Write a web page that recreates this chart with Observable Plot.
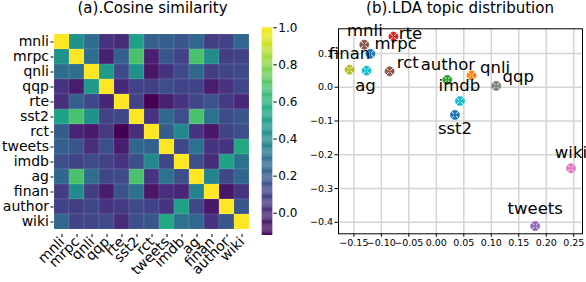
<!DOCTYPE html>
<html>
<head>
<meta charset="utf-8">
<script src="https://cdn.jsdelivr.net/npm/d3@7"></script>
<script src="https://cdn.jsdelivr.net/npm/@observablehq/plot@0.6"></script>
<style>
  html, body { margin: 0; padding: 0; background: white; }
  #wrap { position: relative; width: 586px; height: 282px; overflow: hidden; font-family: "DejaVu Sans", sans-serif; }
  .title { position: absolute; top: 0; font-size: 15px; line-height: 17px; white-space: nowrap; transform: translateX(-50%); color: black; }
  .panel { position: absolute; top: 0; }
  .panel svg { max-width: none !important; overflow: visible; background: none !important; }
</style>
</head>
<body>
<div id="wrap">
  <div class="title" style="left:152.5px">(a).Cosine similarity</div>
  <div class="title" style="left:460px">(b).LDA topic distribution</div>
  <div class="panel" id="heat" style="left:0px"></div>
  <div class="panel" id="cbar" style="left:250px"></div>
  <div class="panel" id="scatter" style="left:290px"></div>
</div>
<script>
// ---------- data ----------
const datasets = ["mnli","mrpc","qnli","qqp","rte","sst2","rct","tweets","imdb","ag","finan","author","wiki"];

const simMnli   = [1.00,0.45,0.27,0.05,0.02,0.52,0.22,0.22,0.17,0.25,0.08,0.10,0.25];
const simMrpc   = [0.45,1.00,0.27,-0.02,0.22,0.68,-0.02,0.18,0.10,0.68,0.42,0.08,0.10];
const simQnli   = [0.27,0.28,1.00,0.48,0.13,0.45,-0.05,0.04,0.13,0.26,0.08,0.11,0.13];
const simQqp    = [0.05,-0.03,0.48,1.00,0.01,0.10,0.09,0.15,0.10,0.10,-0.03,0.05,0.12];
const simRte    = [0.03,0.22,0.12,0.00,1.00,0.10,-0.12,-0.02,0.05,0.12,0.16,0.07,0.01];
const simSst2   = [0.52,0.68,0.45,0.10,0.12,1.00,0.05,0.25,0.15,0.68,0.30,0.13,0.18];
const simRct    = [0.20,-0.01,-0.04,0.07,-0.12,0.03,1.00,0.20,0.40,0.05,-0.05,0.10,0.15];
const simTweets = [0.22,0.17,0.03,0.15,-0.03,0.25,0.22,1.00,0.12,0.30,0.05,0.05,0.55];
const simImdb   = [0.15,0.10,0.13,0.10,0.05,0.15,0.40,0.12,1.00,0.15,0.02,0.52,0.30];
const simAg     = [0.25,0.68,0.27,0.12,0.13,0.68,0.05,0.30,0.15,1.00,0.38,0.12,0.25];
const simFinan  = [0.08,0.42,0.08,-0.03,0.16,0.30,-0.05,0.03,0.00,0.38,1.00,-0.05,0.05];
const simAuthor = [0.10,0.08,0.12,0.05,0.07,0.13,0.10,0.05,0.52,0.12,-0.05,1.00,0.18];
const simWiki   = [0.25,0.10,0.12,0.13,0.02,0.15,0.18,0.55,0.30,0.25,0.05,0.18,1.00];
const similarity = [simMnli, simMrpc, simQnli, simQqp, simRte, simSst2, simRct, simTweets, simImdb, simAg, simFinan, simAuthor, simWiki];

const colorDomain = [-0.12, 1.0];
const colorbarTicks = [0.0, 0.2, 0.4, 0.6, 0.8, 1.0];

// LDA topic distribution (2-D projection), same dataset order
const ldaX = [-0.131,-0.120,0.064,0.109,-0.078,0.034,-0.085,0.180,0.043,-0.127,-0.158,0.020,0.245];
const ldaY = [0.126,0.099,0.035,0.004,0.150,-0.082,0.047,-0.411,-0.041,0.049,0.052,0.022,-0.240];
// annotation text anchor positions (data units)
const labelX = [-0.130,-0.074,0.107,0.149,-0.047,0.034,-0.052,0.180,0.042,-0.129,-0.158,0.021,0.245];
const labelY = [0.168,0.129,0.058,0.032,0.159,-0.122,0.073,-0.359,0.005,0.005,0.100,0.067,-0.193];

const xTicks = [-0.15,-0.10,-0.05,0.00,0.05,0.10,0.15,0.20,0.25];
const yTicks = [-0.4,-0.3,-0.2,-0.1,0.0,0.1];

// styles
const pointColors = ["#8c564b","#1f77b4","#ff7f0e","#7f7f7f","#d62728","#1f77b4","#8c564b","#9467bd","#17becf","#17becf","#bcbd22","#2ca02c","#e377c2"];
const FONT = "DejaVu Sans";

// ---------- heatmap ----------
const cells = [];
datasets.forEach((r, i) => datasets.forEach((c, j) => cells.push({row: r, col: c, value: similarity[i][j]})));

const colorScale = {type: "linear", scheme: "viridis", domain: colorDomain};

const heat = Plot.plot({
  width: 255, height: 282,
  marginLeft: 53.5, marginRight: 6, marginTop: 28.8, marginBottom: 48,
  style: {fontFamily: FONT, fontSize: "14px", color: "black", background: "none"},
  x: {domain: datasets, padding: 0, tickRotate: -45, tickSize: 3, tickPadding: 2, label: null},
  y: {domain: datasets, padding: 0, tickSize: 3, tickPadding: 2, label: null},
  color: colorScale,
  marks: [
    Plot.cell(cells, {x: "col", y: "row", fill: "value", inset: 0, stroke: "white", strokeOpacity: 0.18, strokeWidth: 0.6})
  ]
});
document.getElementById("heat").appendChild(heat);

// ---------- colorbar ----------
const ramp = d3.range(0, 224).map(i => colorDomain[0] + i * (colorDomain[1] - colorDomain[0]) / 224);
const step = (colorDomain[1] - colorDomain[0]) / 224;
const cbar = Plot.plot({
  width: 50, height: 282,
  marginLeft: 11.7, marginRight: 27.7, marginTop: 27.3, marginBottom: 47,
  style: {fontFamily: FONT, fontSize: "12px", color: "black", background: "none"},
  x: {domain: [0, 1], axis: null},
  y: {domain: colorDomain, axis: "right", ticks: colorbarTicks, tickFormat: d3.format(".1f"), tickSize: 3.5, tickPadding: 2, label: null},
  color: colorScale,
  marks: [
    Plot.rect(ramp, {x1: () => 0, x2: () => 1, y1: d => d, y2: d => d + step * 1.05, fill: d => d + step / 2})
  ]
});
document.getElementById("cbar").appendChild(cbar);

// ---------- scatter ----------
const pts = datasets.map((name, i) => ({name, x: ldaX[i], y: ldaY[i], lx: labelX[i], ly: labelY[i], color: pointColors[i]}));

const scatter = Plot.plot({
  width: 296, height: 282,
  marginLeft: 48, marginRight: 4, marginTop: 28.3, marginBottom: 48.7,
  style: {fontFamily: FONT, fontSize: "9.5px", color: "black", background: "none"},
  x: {domain: [-0.178, 0.266], ticks: xTicks, tickFormat: d3.format(".2f"), tickSize: 3.5, tickPadding: 2, label: null},
  y: {domain: [-0.434, 0.173], ticks: yTicks, tickFormat: d3.format(".1f"), tickSize: 3.5, tickPadding: 2, label: null},
  marks: [
    Plot.ruleX(xTicks, {stroke: "#d4d4d4", strokeWidth: 1.5}),
    Plot.ruleY(yTicks, {stroke: "#d4d4d4", strokeWidth: 1.5}),
    Plot.frame({stroke: "black", strokeWidth: 1}),
    Plot.dot(pts, {x: "x", y: "y", r: 4.6, fill: d => d.color, stroke: d => d.color, strokeWidth: 0.6}),
    Plot.dot(pts, {x: "x", y: "y", r: 3.4, symbol: "times", stroke: "white", strokeWidth: 0.9}),
    Plot.dot(pts, {x: "x", y: "y", r: 1.2, fill: d => d.color}),
    Plot.text(pts, {x: "lx", y: "ly", text: "name", fontSize: 16.5, fill: "black", fontFamily: FONT})
  ]
});
document.getElementById("scatter").appendChild(scatter);
</script>
</body>
</html>
